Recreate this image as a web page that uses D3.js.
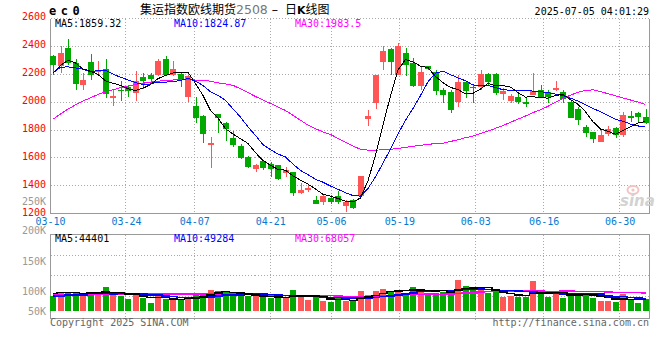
<!DOCTYPE html>
<html><head><meta charset="utf-8">
<script src="https://cdn.jsdelivr.net/npm/d3@7/dist/d3.min.js"></script>
<style>body{margin:0;background:#fff}svg{display:block}text{white-space:pre}</style>
</head><body><svg id="c" width="660" height="360"></svg>
<script>
// ---------------- data ----------------
const dates = ["03-10","03-11","03-12","03-13","03-14","03-17","03-18","03-19","03-20","03-21",
"03-24","03-25","03-26","03-27","03-28","03-31","04-01","04-02","04-03","04-07",
"04-08","04-09","04-10","04-11","04-14","04-15","04-16","04-17","04-18","04-21",
"04-22","04-23","04-24","04-25","04-28","04-29","04-30","05-06","05-07","05-08",
"05-09","05-12","05-13","05-14","05-15","05-16","05-19","05-20","05-21","05-22",
"05-23","05-26","05-27","05-28","05-29","05-30","06-03","06-04","06-05","06-06",
"06-09","06-10","06-11","06-12","06-13","06-16","06-17","06-18","06-19","06-20",
"06-23","06-24","06-25","06-26","06-27","06-30","07-01","07-02","07-03","07-04"];
const opens = [2328,2256,2389,2281,2120,2288,2213,2237,2036,2089,
2108,2064,2177,2192,2196,2305,2192,2201,2033,1973,
1901,1697,1915,1848,1745,1687,1606,1519,1577,1555,
1548,1493,1500,1349,1368,1296,1284,1313,1325,1255,
1301,1325,1877,1997,2285,2377,2196,2348,2281,2117,
2261,2213,2088,2072,1999,2141,2110,2108,2201,2201,
2060,2009,2036,2004,2048,2088,2069,2084,2074,2004,
1951,1824,1786,1716,1769,1817,1764,1901,1920,1891];
const highs = [2340,2401,2449,2305,2208,2341,2297,2305,2088,2148,
2120,2220,2208,2208,2309,2329,2293,2216,2196,2040,
1905,1752,1915,1860,1793,1699,1613,1560,1584,1572,
1553,1536,1500,1421,1411,1327,1344,1337,1361,1296,
1308,1471,1944,2196,2401,2384,2425,2384,2317,2257,
2261,2228,2100,2088,2192,2148,2124,2232,2208,2208,
2100,2060,2064,2028,2208,2124,2088,2153,2084,2016,
1968,1836,1788,1800,1829,1824,1932,1937,1927,1951];
const lows = [2196,2208,2269,2088,2084,2156,2184,2028,1973,2009,
2040,2009,2093,2148,2184,2184,2184,2108,2004,1853,
1704,1531,1781,1723,1680,1596,1531,1500,1512,1464,
1440,1464,1325,1344,1356,1269,1260,1272,1272,1212,
1231,1325,1829,1952,2228,2192,2196,2184,2108,2084,
2228,2052,1992,1925,1968,2028,1992,2088,2112,2052,
2016,1992,1988,1968,2048,2028,1992,2076,1992,1884,
1836,1747,1709,1716,1757,1740,1752,1860,1853,1843];
const closes = [2269,2348,2281,2129,2160,2192,2225,2057,2042,2080,
2077,2153,2148,2165,2297,2192,2240,2160,2184,1884,
1769,1706,1884,1805,1692,1601,1536,1553,1526,1524,
1447,1512,1351,1368,1385,1269,1327,1284,1284,1284,
1243,1471,1901,2196,2369,2285,2401,2269,2117,2213,
2237,2081,2048,1944,2141,2076,2105,2201,2144,2064,
2081,2045,2004,1985,2076,2040,2040,2098,2021,1889,
1872,1776,1738,1762,1805,1764,1908,1884,1891,1853];
const volumes = [57500,67800,73900,73900,61300,70100,67800,93100,61300,57500,
46000,70100,48600,31800,61300,44800,42100,44800,44800,70100,
70100,80400,76600,72800,58600,57500,57500,57500,54800,48600,
48600,52500,80400,61300,42100,52500,38300,35600,52500,39400,
38300,76600,61300,76600,84300,76600,80400,70100,91900,84300,
70100,70100,73900,70100,118700,95800,80400,80400,70100,73900,
54800,57500,54800,52500,114900,67800,54800,67800,50900,67800,
67800,65100,50900,38300,38300,35600,65100,44800,31800,44800];
// moving-average values before a full window is visible
const ma5Head = [2208,2262,2300,2280];
const ma10Head = [2208,2250,2252,2245,2235,2218,2225,2228,2200];
const ma30 = [1877,1915,1950,1980,2008,2030,2055,2072,2088,2103,
2115,2126,2135,2143,2149,2155,2158,2160,2160,2158,
2156,2150,2138,2130,2120,2095,2068,2040,2015,1990,
1965,1940,1905,1870,1835,1810,1785,1768,1740,1712,
1685,1662,1656,1656,1658,1662,1668,1675,1684,1690,
1697,1703,1706,1718,1730,1745,1757,1775,1793,1812,
1832,1855,1878,1900,1925,1945,1970,2000,2025,2050,
2070,2083,2088,2075,2060,2045,2030,2015,2000,1983.5];
const volMa5Head = [67800,71600,71600,71600];
const volMa10Head = [57500,57500,61300,61300,61300,67800,67800,67800,65100];
const volMa30 = [62400,62400,62600,62800,62800,62600,62400,62600,62800,63000,
63400,64000,64600,65100,65100,65300,65100,65100,64800,65100,
65300,65500,65300,65100,64600,63800,63000,62400,61700,61300,
60600,60100,60100,59800,59800,60100,59800,58600,57200,56300,
56300,56100,56300,57000,59400,60100,61300,63400,64000,64000,
64200,64000,64000,64400,66500,68900,69600,72000,74900,75500,
75800,75500,75500,75800,76000,75800,75500,75500,75800,75800,
75500,75500,75300,74200,73000,71600,71600,71600,70500,68057];

const priceTicks = [2600,2400,2200,2000,1800,1600,1400,1200];
const dateTicks = ["03-10","03-24","04-07","04-21","05-06","05-19","06-03","06-16","06-30"];
const volTicks = [250000,200000,150000,100000,50000];
const volTickLabels = ["250K","200K","150K","100K","50K"];
const priceLegend = ["MA5:1859.32","MA10:1824.87","MA30:1983.5"];
const volLegend = ["MA5:44401","MA10:49284","MA30:68057"];
const titleParts = ["集运指数欧线期货","2508"," – ","日","K","线图"];
const codeText = "ec0";
const timeText = "2025-07-05 04:01:29";
const copyText = "Copyright 2025 SINA.COM";
const urlText = "http://finance.sina.com.cn";
const markText = "sina";

// ---------------- drawing ----------------
const svg = d3.select("#c");
const MONO = "'DejaVu Sans Mono', monospace";
const CJK = "'Noto Sans CJK SC', sans-serif";
const UP = "#ff5555", DOWN = "#00a800";
const maColors = ["#000000","#0000ff","#ff00ff"];
const GRID = "#aaaaaa", FRAME = "#999999";

const xBand = d3.scaleBand().domain(dates).range([49.25,649.25]).paddingInner(0.2).paddingOuter(0.1);
const xGrid = d3.scalePoint().domain(dates).range([50,650]);
const yP = d3.scaleLinear().domain([1200,2600]).range([213.8,18.3]);
const yV = d3.scaleLinear().domain([0,300000]).range([311,232.67]);
const volLabelY = d3.scaleLinear().domain([50000,100000,150000,200000,250000]).range([314,294,264,233.5,204]);
const bw = xBand.bandwidth();
const px = v => Math.floor(v) + 0.5;

function movingAvg(arr, n, head){
  return arr.map((v,i) => i < n-1 ? head[i] : d3.mean(arr.slice(i-n+1, i+1)));
}
const ma5 = movingAvg(closes,5,ma5Head);
const ma10 = movingAvg(closes,10,ma10Head);
const vma5 = movingAvg(volumes,5,volMa5Head);
const vma10 = movingAvg(volumes,10,volMa10Head);

const main = {top:18.5, bottom:213.5, left:50.5, right:649.5};
const vol = {top:234.5, bottom:318.5, left:50.5, right:649.5};

// header
svg.append("text").attr("x",49).attr("y",15).attr("font-family",MONO).attr("font-weight","bold")
  .attr("font-size",12).attr("letter-spacing",4.5).attr("fill","#000").text(codeText);
const title = svg.append("text").attr("x",140).attr("y",14);
title.append("tspan").attr("font-family",CJK).attr("font-size",12).attr("fill","#000").text(titleParts[0]);
title.append("tspan").attr("font-family","'DejaVu Sans', sans-serif").attr("font-size",12.5).attr("fill","#777").text(titleParts[1]);
title.append("tspan").attr("font-family","'DejaVu Sans', sans-serif").attr("font-size",12.5).attr("fill","#000").text(titleParts[2]);
title.append("tspan").attr("dx",3).attr("font-family",CJK).attr("font-size",12).attr("fill","#000").text(titleParts[3]);
title.append("tspan").attr("font-family","'DejaVu Sans', sans-serif").attr("font-weight","bold").attr("font-size",11).attr("fill","#000").text(titleParts[4]);
title.append("tspan").attr("font-family",CJK).attr("font-size",12).attr("fill","#000").text(titleParts[5]);
svg.append("text").attr("x",649).attr("y",15).attr("text-anchor","end").attr("font-family",MONO)
  .attr("font-size",10).attr("fill","#000").text(timeText);

// grids
const gGrid = svg.append("g").attr("stroke",GRID).attr("stroke-dasharray","1,2").attr("shape-rendering","crispEdges");
priceTicks.filter(t => t !== 1200).forEach(t => {
  gGrid.append("line").attr("x1",main.left).attr("x2",main.right).attr("y1",px(yP(t))).attr("y2",px(yP(t)));
});
dateTicks.slice(1).forEach(d => {
  const x = px(xGrid(d));
  gGrid.append("line").attr("x1",x).attr("x2",x).attr("y1",main.top).attr("y2",main.bottom);
  gGrid.append("line").attr("x1",x).attr("x2",x).attr("y1",vol.top).attr("y2",vol.bottom+3);
});
const vGridY = d3.scaleLinear().domain([0,4]).range([vol.top, vol.bottom-2]);
[1,2,3].forEach(k => gGrid.append("line").attr("x1",vol.left).attr("x2",vol.right).attr("y1",px(vGridY(k))).attr("y2",px(vGridY(k))));

// frames
const gF = svg.append("g").attr("stroke",FRAME).attr("fill","none").attr("shape-rendering","crispEdges");
gF.append("path").attr("d",`M${main.left},${main.top}V${main.bottom}H${main.right}V${main.top}`);
gF.append("path").attr("d",`M${vol.left},${vol.top}H${vol.right}V${vol.bottom}H${vol.left}Z`);

// axes
const yAxis = svg.append("g").attr("transform",`translate(${main.left-0.5},0)`)
  .call(d3.axisLeft(yP).tickValues(priceTicks).tickSize(0).tickPadding(4).tickFormat(d3.format("d")));
yAxis.select(".domain").remove();
yAxis.selectAll("text").attr("dy","0.15em").attr("font-family",MONO).attr("font-size",10).attr("fill","#ff0000");

const xAxis = svg.append("g").attr("transform",`translate(0,${main.bottom})`)
  .call(d3.axisBottom(xGrid).tickValues(dateTicks).tickSize(0).tickPadding(4.3));
xAxis.select(".domain").remove();
xAxis.selectAll("text").attr("font-family",MONO).attr("font-size",10).attr("fill","#0a78d0");

const vAxis = svg.append("g").attr("transform",`translate(${main.left-0.5},0)`)
  .call(d3.axisLeft(volLabelY).tickValues(volTicks).tickSize(0).tickPadding(4).tickFormat((d,i)=>volTickLabels[i]));
vAxis.select(".domain").remove();
vAxis.selectAll("text").attr("dy",0).attr("font-family",MONO).attr("font-size",10).attr("fill","#999");

// watermark
svg.append("ellipse").attr("cx",633).attr("cy",190).attr("rx",5.5).attr("ry",4).attr("fill","none").attr("stroke","#f3c4c4").attr("stroke-width",2);
svg.append("circle").attr("cx",633).attr("cy",190).attr("r",1.6).attr("fill","#f3c4c4");
svg.append("text").attr("x",620).attr("y",206).attr("font-family","'DejaVu Sans', sans-serif").attr("font-style","italic")
  .attr("font-weight","bold").attr("font-size",15).attr("fill","#d2d2d2").text(markText);

// candles
const candles = dates.map((d,i)=>({d,o:opens[i],h:highs[i],l:lows[i],c:closes[i],v:volumes[i]}));
const gC = svg.append("g").attr("shape-rendering","crispEdges");
gC.selectAll("rect.w").data(candles).join("rect").attr("class","w")
  .attr("x",d=>xBand(d.d)+3).attr("width",1)
  .attr("y",d=>yP(d.h)).attr("height",d=>Math.max(1,yP(d.l)-yP(d.h)))
  .attr("fill",d=>d.c>=d.o?UP:DOWN);
gC.selectAll("rect.b").data(candles).join("rect").attr("class","b")
  .attr("x",d=>xBand(d.d)).attr("width",bw)
  .attr("y",d=>yP(Math.max(d.o,d.c))).attr("height",d=>Math.max(1.5,Math.abs(yP(d.o)-yP(d.c))))
  .attr("fill",d=>d.c>=d.o?UP:DOWN);

// price MAs
const cx = i => xBand(dates[i]) + 3;
const pLine = d3.line().x((d,i)=>cx(i)).y(d=>yP(d));
[ma30, ma10, ma5].forEach((arr,k)=>{
  svg.append("path").attr("d",pLine(arr)).attr("fill","none").attr("stroke",maColors[2-k])
    .attr("stroke-width",1).attr("shape-rendering","crispEdges");
});

// volume bars
const gV = svg.append("g").attr("shape-rendering","crispEdges");
gV.selectAll("rect").data(candles).join("rect")
  .attr("x",d=>xBand(d.d)).attr("width",bw)
  .attr("y",d=>yV(d.v)).attr("height",d=>yV(0)-yV(d.v))
  .attr("fill",d=>d.c>=d.o?UP:DOWN);
const vLine = d3.line().curve(d3.curveStep).x((d,i)=>cx(i)).y(d=>yV(d));
[volMa30, vma10, vma5].forEach((arr,k)=>{
  svg.append("path").attr("d",vLine(arr)).attr("fill","none").attr("stroke",maColors[2-k])
    .attr("stroke-width",1.5).attr("shape-rendering","crispEdges");
});

// legends
const legX = [55,174,295];
priceLegend.forEach((t,i)=> svg.append("text").attr("x",legX[i]).attr("y",27).attr("font-family",MONO).attr("font-size",10).attr("fill",maColors[i]).text(t));
volLegend.forEach((t,i)=> svg.append("text").attr("x",legX[i]).attr("y",242).attr("font-family",MONO).attr("font-size",10).attr("fill",maColors[i]).text(t));

// footer
svg.append("text").attr("x",50).attr("y",326).attr("font-family",MONO).attr("font-size",10).attr("fill","#666").text(copyText);
svg.append("text").attr("x",649).attr("y",326).attr("text-anchor","end").attr("font-family",MONO).attr("font-size",10).attr("fill","#666").text(urlText);
</script></body></html>
